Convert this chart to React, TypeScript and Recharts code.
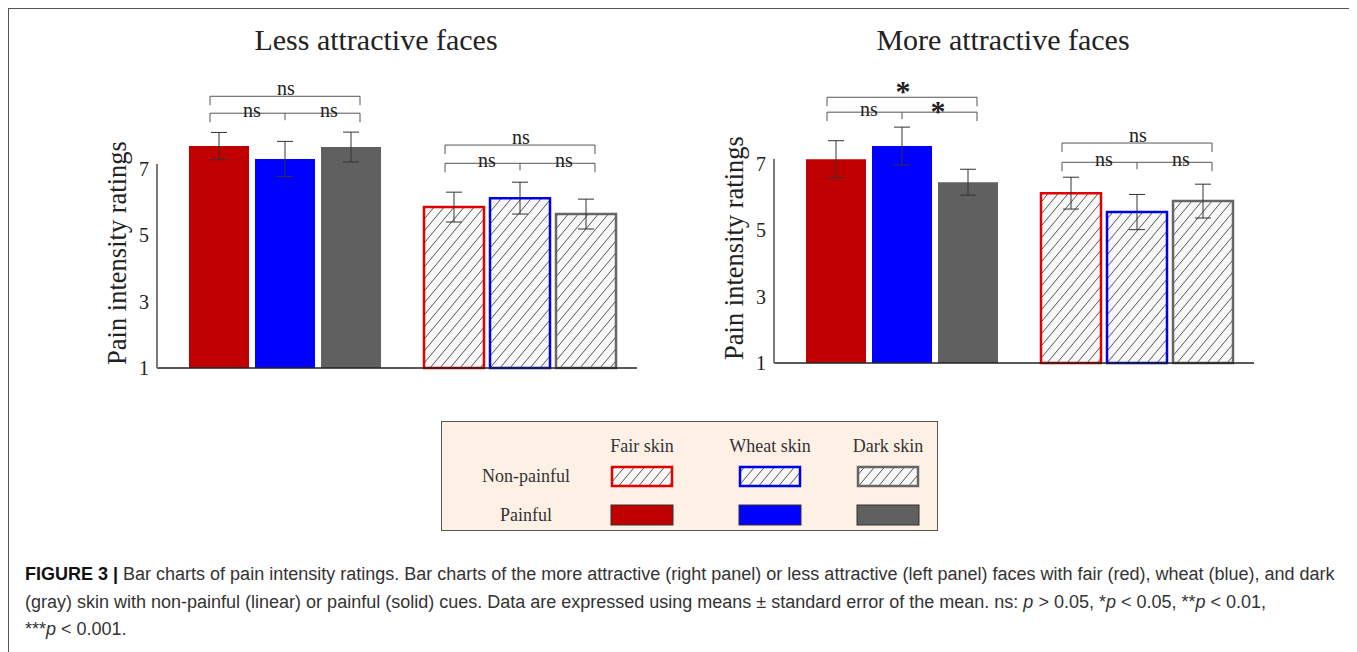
import React from "react";
import { BarChart, Bar, XAxis, YAxis, ErrorBar, Cell, LabelList } from "recharts";

// categories
const cues = ["Painful", "Non-painful"];
const skins = ["Fair skin", "Wheat skin", "Dark skin"];
const yTicks = [1, 3, 5, 7];

// less attractive faces, [painful, non-painful]
const lessFair = [7.69, 5.85];
const lessWheat = [7.3, 6.12];
const lessDark = [7.66, 5.64];
const lessFairSem = [0.41, 0.45];
const lessWheatSem = [0.53, 0.48];
const lessDarkSem = [0.45, 0.45];

// more attractive faces, [painful, non-painful]
const moreFair = [7.14, 6.12];
const moreWheat = [7.54, 5.55];
const moreDark = [6.45, 5.88];
const moreFairSem = [0.56, 0.48];
const moreWheatSem = [0.57, 0.53];
const moreDarkSem = [0.39, 0.51];

// significance per cue: [fair vs dark, fair vs wheat, wheat vs dark]
const lessSig = [["ns", "ns", "ns"], ["ns", "ns", "ns"]];
const moreSig = [["*", "ns", "*"], ["ns", "ns", "ns"]];
// bracket heights in rating units per cue: [upper, lower]
const lessBrackets = [[9.19, 8.68], [7.72, 7.17]];
const moreBrackets = [[9.01, 8.56], [7.63, 7.05]];

const Y_MIN = 1;
const Y_MAX = 9.5;
const AXIS_TOP = 7.15;
const CHART_W = 550;
const CHART_H = 324;
const X_AXIS_H = 2;
const MARGIN = { top: 30, right: 3, bottom: 10, left: 10 };
const PAD_LEFT = 10;
const BAR_SIZE = 60;
const BAR_GAP = 6;
const SERIF = "'Liberation Serif', 'Times New Roman', serif";
const SANS = "'Liberation Sans Narrow', 'Liberation Sans', Arial, sans-serif";

const series = [
  { key: "fair", solid: "#c00000", edge: "#e00000" },
  { key: "wheat", solid: "#0000ff", edge: "#0000e6" },
  { key: "dark", solid: "#606060", edge: "#666666" },
];

function HatchDefs() {
  return (
    <svg width={0} height={0} style={{ position: "absolute" }}>
      <defs>
        <pattern id="hatch" width={10} height={12} patternUnits="userSpaceOnUse">
          <rect width={10} height={12} fill="#f8f8f8" />
          <path d="M0,12 L10,0 M-1,1.2 L1,-1.2 M9,13.2 L11,10.8" stroke="#555" strokeWidth={1} />
        </pattern>
      </defs>
    </svg>
  );
}

// y axis label, plus the short axis line (1 .. AXIS_TOP) measured from the axis box
const renderYLabel = (props: any) => {
  const vb = props.viewBox;
  const ax = Number(vb.x) + Number(vb.width);
  const h = Number(vb.height);
  const bottom = Number(vb.y) + h;
  const lineH = ((AXIS_TOP - Y_MIN) / (Y_MAX - Y_MIN)) * h;
  const cx = ax - 40;
  const cy = bottom - 115;
  return (
    <g>
      <rect x={ax - 1} y={bottom - lineH} width={2} height={lineH} fill="#7a7a7a" />
      <text x={cx} y={cy} transform={`rotate(-90 ${cx} ${cy})`} textAnchor="middle" dominantBaseline="central"
        fontFamily={SERIF} fontSize={26.5} fill="#222">
        Pain intensity ratings
      </text>
    </g>
  );
};

function Panel({ fair, wheat, dark, fairSem, wheatSem, darkSem, sig, brackets }: any) {
  const data = cues.map((cue, i) => ({
    cue,
    fair: fair[i],
    wheat: wheat[i],
    dark: dark[i],
    fairSem: fairSem[i],
    wheatSem: wheatSem[i],
    darkSem: darkSem[i],
  }));

  // brackets hang off the middle bar, scaled from its own rect
  const renderBracket = (props: any) => {
    const vb = props.viewBox || props;
    const x = Number(vb.x);
    const y = Number(vb.y);
    const width = Number(vb.width);
    const height = Number(vb.height);
    const i = props.index;
    const unit = height / (props.value - Y_MIN);
    const toY = (v: number) => y + height - (v - Y_MIN) * unit;
    const cx = x + width / 2;
    const half = width + BAR_GAP + 9;
    const up = toY(brackets[i][0]);
    const low = toY(brackets[i][1]);
    const [topLab, leftLab, rightLab] = sig[i];
    const lab = (t: string, lx: number, base: number) => (
      <text x={lx} y={base + (t === "*" ? 5 : 0)} textAnchor="middle" fontFamily={SERIF}
        fontSize={t === "*" ? 30 : 20} fontWeight={t === "*" ? "bold" : "normal"} fill="#222">{t}</text>
    );
    return (
      <g>
        <path d={`M${cx - half},${up + 9} V${up} H${cx + half} V${up + 9}`} fill="none" stroke="#555" strokeWidth={1} />
        <path d={`M${cx - half},${low + 9} V${low} H${cx + half} V${low + 9} M${cx},${low} V${low + 7}`} fill="none" stroke="#555" strokeWidth={1} />
        {lab(topLab, cx + 1, up - 1)}
        {lab(leftLab, cx - 33, low + 4)}
        {lab(rightLab, rightLab === "*" ? cx + 36 : cx + 44, low + 4)}
      </g>
    );
  };

  return (
    <BarChart width={CHART_W} height={CHART_H} data={data} margin={MARGIN} barGap={BAR_GAP} barSize={BAR_SIZE}>
      <XAxis dataKey="cue" tick={false} tickLine={false} height={X_AXIS_H} padding={{ left: PAD_LEFT, right: 0 }}
        axisLine={{ stroke: "#222", strokeWidth: 1.5 }} />
      <YAxis domain={[Y_MIN, Y_MAX]} ticks={yTicks} interval={0} tickLine={false} axisLine={false} width={57}
        tick={{ fontFamily: SERIF, fontSize: 20, fill: "#222" }} label={renderYLabel} />
      {series.map((s) => (
        <Bar key={s.key} dataKey={s.key} isAnimationActive={false}>
          {data.map((d) => (
            <Cell key={d.cue} fill={d.cue === "Painful" ? s.solid : "url(#hatch)"}
              stroke={d.cue === "Painful" ? "none" : s.edge} strokeWidth={d.cue === "Painful" ? 0 : 2.5} />
          ))}
          <ErrorBar dataKey={`${s.key}Sem`} width={8} stroke="#333" strokeWidth={1} />
          {s.key === "wheat" && <LabelList dataKey="wheat" content={renderBracket} />}
        </Bar>
      ))}
    </BarChart>
  );
}

const legendCols = [200, 328, 446];

function LegendBox() {
  return (
    <div style={{ position: "absolute", left: 433, top: 413, width: 497, height: 110, boxSizing: "border-box",
      border: "1.5px solid #555", background: "#fdf1e6" }}>
      <svg width={494} height={107} style={{ position: "absolute", left: 0, top: 0 }}>
        {skins.map((s, i) => (
          <g key={s}>
            <text x={legendCols[i]} y={24} textAnchor="middle" dominantBaseline="central" fontFamily={SERIF} fontSize={18} fill="#333">{s}</text>
            <rect x={legendCols[i] - 30} y={45} width={60} height={19} fill="url(#hatch)" stroke={series[i].edge} strokeWidth={2.5} />
            <rect x={legendCols[i] - 31} y={83} width={62} height={20} fill={series[i].solid} stroke="#333" strokeWidth={1} />
          </g>
        ))}
        <text x={84} y={54} textAnchor="middle" dominantBaseline="central" fontFamily={SERIF} fontSize={18} fill="#333">{cues[1]}</text>
        <text x={84} y={93} textAnchor="middle" dominantBaseline="central" fontFamily={SERIF} fontSize={18} fill="#333">{cues[0]}</text>
      </svg>
    </div>
  );
}

const titleStyle: React.CSSProperties = {
  position: "absolute", width: 400, textAlign: "center", fontFamily: SERIF, fontSize: 30, lineHeight: "30px", color: "#222",
};
const capLine: React.CSSProperties = {
  position: "absolute", left: 17, whiteSpace: "nowrap", fontFamily: SANS, fontSize: 18, lineHeight: "27px", color: "#333",
};

export default function App() {
  return (
    <div style={{ position: "relative", width: 1349, height: 700, background: "#fff" }}>
      <style>{"body { margin: 8px; overflow: hidden; }"}</style>
      <HatchDefs />
      <div style={{ position: "absolute", left: 0, top: 0, width: 1349, height: 700, boxSizing: "border-box", border: "1.5px solid #555" }} />
      <div style={{ ...titleStyle, left: 168, top: 17 }}>Less attractive faces</div>
      <div style={{ ...titleStyle, left: 795, top: 17 }}>More attractive faces</div>
      <div style={{ position: "absolute", left: 82, top: 48 }}>
        <Panel fair={lessFair} wheat={lessWheat} dark={lessDark} fairSem={lessFairSem} wheatSem={lessWheatSem}
          darkSem={lessDarkSem} sig={lessSig} brackets={lessBrackets} />
      </div>
      <div style={{ position: "absolute", left: 699, top: 43 }}>
        <Panel fair={moreFair} wheat={moreWheat} dark={moreDark} fairSem={moreFairSem} wheatSem={moreWheatSem}
          darkSem={moreDarkSem} sig={moreSig} brackets={moreBrackets} />
      </div>
      <LegendBox />
      <div style={{ ...capLine, top: 553 }}>
        <b style={{ color: "#111" }}>FIGURE 3 |</b> Bar charts of pain intensity ratings. Bar charts of the more attractive (right panel) or less attractive (left panel) faces with fair (red), wheat (blue), and dark
      </div>
      <div style={{ ...capLine, top: 581 }}>
        (gray) skin with non-painful (linear) or painful (solid) cues. Data are expressed using means ± standard error of the mean. ns: <i>p</i> &gt; 0.05, *<i>p</i> &lt; 0.05, **<i>p</i> &lt; 0.01,
      </div>
      <div style={{ ...capLine, top: 608 }}>
        ***<i>p</i> &lt; 0.001.
      </div>
    </div>
  );
}
